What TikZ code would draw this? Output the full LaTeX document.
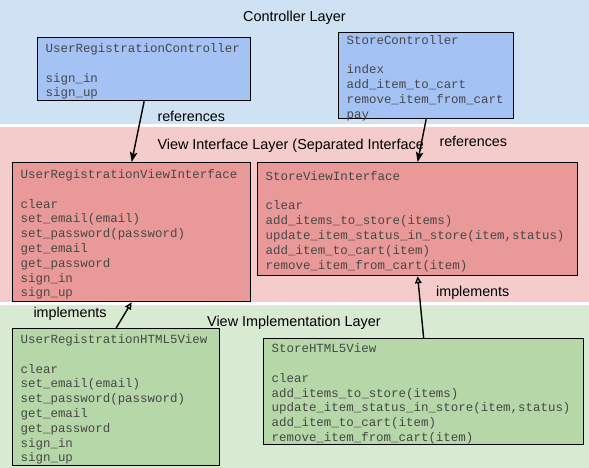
\documentclass[tikz,border=0pt]{standalone}
\usepackage{fontspec}
\setmainfont{Liberation Sans}
\newfontfamily\codefont{Liberation Mono}
\usetikzlibrary{arrows.meta}
\definecolor{ctrlband}{HTML}{CFE2F3}
\definecolor{ifaceband}{HTML}{F4CCCC}
\definecolor{implband}{HTML}{D9EAD3}
\definecolor{ctrlbox}{HTML}{A4C2F4}
\definecolor{ifacebox}{HTML}{EA9999}
\definecolor{implbox}{HTML}{B6D7A8}
\definecolor{codegray}{HTML}{474747}
\newcommand{\classbody}[3]{\parbox[c][#2][c]{#1}{\vspace*{5pt}\strut#3\strut}}

\begin{document}
\begin{tikzpicture}[x=1pt,y=-1pt,
    classbox/.style={draw=black,line width=1.3pt,anchor=north west,
      inner xsep=8pt,inner ysep=0pt,text=codegray,
      font=\fontsize{12.45}{14.8}\codefont},
    layerlabel/.style={inner sep=0pt,font=\fontsize{14.4}{17}\selectfont},
    arrowlabel/.style={inner sep=0pt,anchor=base west,
      font=\fontsize{14.3}{17}\selectfont},
    references/.style={line width=1.4pt,-{Stealth[length=10pt,width=7.5pt,inset=2pt]}},
    implements/.style={line width=1.4pt,-{Triangle[open,length=7pt,width=6.5pt]}}]

    \useasboundingbox (0,0) rectangle (589,468);
    \fill[white] (0,0) rectangle (589,468);
    \fill[ctrlband] (0,0) rectangle (589,124);
    \fill[ifaceband] (0,127.3) rectangle (589,302.3);
    \fill[implband] (0,305) rectangle (589,468);

    \node[layerlabel,anchor=base] (ctrllayer) at (294.4,21.5) {Controller Layer};
    \node[layerlabel,anchor=base west] (ifacelayer) at (157.3,149.5)
      {View Interface Layer (Separated Interface};
    \node[layerlabel,anchor=base west] (impllayer) at (207,326.7)
      {View Implementation Layer};

    \node[classbox,fill=ctrlbox] (urc) at (37,37)
      {\classbody{197pt}{63pt}{UserRegistrationController\\~\\sign\_in\\sign\_up}};
    \node[classbox,fill=ctrlbox] (sc) at (338,32)
      {\classbody{159pt}{86pt}{StoreController\\~\\index\\add\_item\_to\_cart\\
        remove\_item\_from\_cart\\pay}};

    \node[classbox,fill=ifacebox] (urvi) at (12,162)
      {\classbody{222pt}{139pt}{UserRegistrationViewInterface\\~\\clear\\
        set\_email(email)\\set\_password(password)\\get\_email\\get\_password\\
        sign\_in\\sign\_up}};
    \node[classbox,fill=ifacebox] (svi) at (257,162)
      {\classbody{304pt}{113pt}{StoreViewInterface\\~\\clear\\
        add\_items\_to\_store(items)\\update\_item\_status\_in\_store(item,status)\\
        add\_item\_to\_cart(item)\\remove\_item\_from\_cart(item)}};

    \node[classbox,fill=implbox] (urh5) at (12,328)
      {\classbody{191pt}{137pt}{UserRegistrationHTML5View\\~\\clear\\
        set\_email(email)\\set\_password(password)\\get\_email\\get\_password\\
        sign\_in\\sign\_up}};
    \node[classbox,fill=implbox] (sh5) at (263,338)
      {\classbody{304pt}{106pt}{StoreHTML5View\\~\\clear\\
        add\_items\_to\_store(items)\\update\_item\_status\_in\_store(item,status)\\
        add\_item\_to\_cart(item)\\remove\_item\_from\_cart(item)}};

    \draw[references] (urc.south) -- (urvi.north);
    \draw[references] (sc.south) -- (svi.north);
    \draw[implements] (urh5.north) -- (urvi.south);
    \draw[implements] (sh5.north) -- (svi.south);

    \node[arrowlabel] (urcref) at (157.3,121.7) {references};
    \node[arrowlabel] (scref) at (439.3,146.5) {references};
    \node[arrowlabel] (urh5impl) at (33.3,317.7) {implements};
    \node[arrowlabel] (sh5impl) at (436,296.7) {implements};
\end{tikzpicture}
\end{document}
